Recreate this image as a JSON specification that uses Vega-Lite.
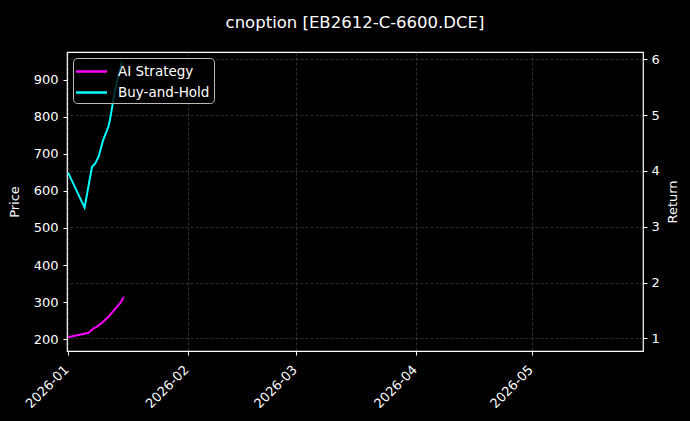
{
  "$schema": "https://vega.github.io/schema/vega-lite/v6.json",
  "width": 576,
  "height": 299,
  "autosize": {"type": "none"},
  "padding": {"left": 67, "top": 52, "right": 47, "bottom": 70},
  "background": "black",
  "title": {
    "text": "cnoption [EB2612-C-6600.DCE]",
    "color": "white",
    "font": "DejaVu Sans",
    "fontSize": 16.5,
    "fontWeight": "normal",
    "offset": 21
  },
  "config": {
    "view": {"stroke": "white", "strokeWidth": 1.2, "fill": "black"},
    "axis": {
      "domain": false,
      "tickColor": "white",
      "tickSize": 4,
      "labelColor": "white",
      "labelFont": "DejaVu Sans",
      "labelFontSize": 13,
      "titleColor": "white",
      "titleFont": "DejaVu Sans",
      "titleFontSize": 13,
      "titleFontWeight": "normal",
      "gridColor": "#777777",
      "gridDash": [3, 2],
      "gridWidth": 0.6,
      "gridOpacity": 0.65
    },
    "legend": {
      "orient": "top-left",
      "offset": 6,
      "padding": 4,
      "fillColor": "rgba(0,0,0,0.8)",
      "strokeColor": "#bbbbbb",
      "cornerRadius": 4,
      "labelColor": "white",
      "labelFont": "DejaVu Sans",
      "labelFontSize": 13.5,
      "labelOffset": 17,
      "symbolType": "M-1.94,0H1.94",
      "symbolStrokeWidth": 2.5,
      "symbolSize": 256,
      "symbolOffset": 5,
      "rowPadding": 5
    }
  },
  "datasets": {
    "price": [
      {"date": "2026-01-01T00:00:00", "price": 650, "series": "Buy-and-Hold"},
      {"date": "2026-01-05T07:00:00", "price": 555, "series": "Buy-and-Hold"},
      {"date": "2026-01-07T05:00:00", "price": 665, "series": "Buy-and-Hold"},
      {"date": "2026-01-08T01:00:00", "price": 674, "series": "Buy-and-Hold"},
      {"date": "2026-01-08T22:00:00", "price": 692, "series": "Buy-and-Hold"},
      {"date": "2026-01-10T02:00:00", "price": 737, "series": "Buy-and-Hold"},
      {"date": "2026-01-11T10:00:00", "price": 772, "series": "Buy-and-Hold"},
      {"date": "2026-01-11T20:00:00", "price": 790, "series": "Buy-and-Hold"},
      {"date": "2026-01-12T17:00:00", "price": 844, "series": "Buy-and-Hold"},
      {"date": "2026-01-13T14:00:00", "price": 890, "series": "Buy-and-Hold"},
      {"date": "2026-01-14T22:00:00", "price": 947, "series": "Buy-and-Hold"}
    ],
    "ret": [
      {"date": "2026-01-01T00:00:00", "ret": 1.02, "series": "AI Strategy"},
      {"date": "2026-01-06T08:00:00", "ret": 1.10, "series": "AI Strategy"},
      {"date": "2026-01-07T15:00:00", "ret": 1.18, "series": "AI Strategy"},
      {"date": "2026-01-08T12:00:00", "ret": 1.21, "series": "AI Strategy"},
      {"date": "2026-01-09T20:00:00", "ret": 1.28, "series": "AI Strategy"},
      {"date": "2026-01-11T12:00:00", "ret": 1.39, "series": "AI Strategy"},
      {"date": "2026-01-13T05:00:00", "ret": 1.53, "series": "AI Strategy"},
      {"date": "2026-01-14T02:00:00", "ret": 1.60, "series": "AI Strategy"},
      {"date": "2026-01-14T12:00:00", "ret": 1.63, "series": "AI Strategy"},
      {"date": "2026-01-15T10:00:00", "ret": 1.74, "series": "AI Strategy"}
    ]
  },
  "layer": [
    {
      "data": {"name": "ret"},
      "mark": {"type": "line", "strokeWidth": 2},
      "encoding": {
        "x": {
          "field": "date",
          "type": "temporal",
          "scale": {
            "domain": [
              {"year": 2025, "month": 12, "date": 31, "hours": 18},
              {"year": 2026, "month": 5, "date": 29, "hours": 14}
            ]
          },
          "axis": {
            "title": null,
            "format": "%Y-%m",
            "values": [
              {"year": 2026, "month": 1, "date": 1},
              {"year": 2026, "month": 2, "date": 1},
              {"year": 2026, "month": 3, "date": 1},
              {"year": 2026, "month": 4, "date": 1},
              {"year": 2026, "month": 5, "date": 1}
            ],
            "labelAngle": -45,
            "labelAlign": "right",
            "labelBaseline": "top",
            "labelPadding": 8,
            "labelOffset": -6
          }
        },
        "y": {
          "field": "ret",
          "type": "quantitative",
          "scale": {"domain": [0.773, 6.13], "zero": false, "nice": false},
          "axis": {
            "orient": "right",
            "title": "Return",
            "titleAngle": 270,
            "titleBaseline": "bottom",
            "values": [1, 2, 3, 4, 5, 6],
            "labelPadding": 4,
            "titlePadding": 20
          }
        },
        "color": {
          "field": "series",
          "type": "nominal",
          "scale": {"domain": ["AI Strategy", "Buy-and-Hold"], "range": ["#ff00ff", "#00ffff"]},
          "legend": {"title": null}
        }
      }
    },
    {
      "data": {"name": "price"},
      "mark": {"type": "line", "strokeWidth": 2},
      "encoding": {
        "x": {"field": "date", "type": "temporal"},
        "y": {
          "field": "price",
          "type": "quantitative",
          "scale": {"domain": [168.5, 974.3], "zero": false, "nice": false},
          "axis": {
            "orient": "left",
            "title": "Price",
            "values": [200, 300, 400, 500, 600, 700, 800, 900],
            "labelPadding": 5,
            "titlePadding": 12
          }
        },
        "color": {"field": "series", "type": "nominal"}
      }
    }
  ],
  "resolve": {"scale": {"y": "independent"}}
}
